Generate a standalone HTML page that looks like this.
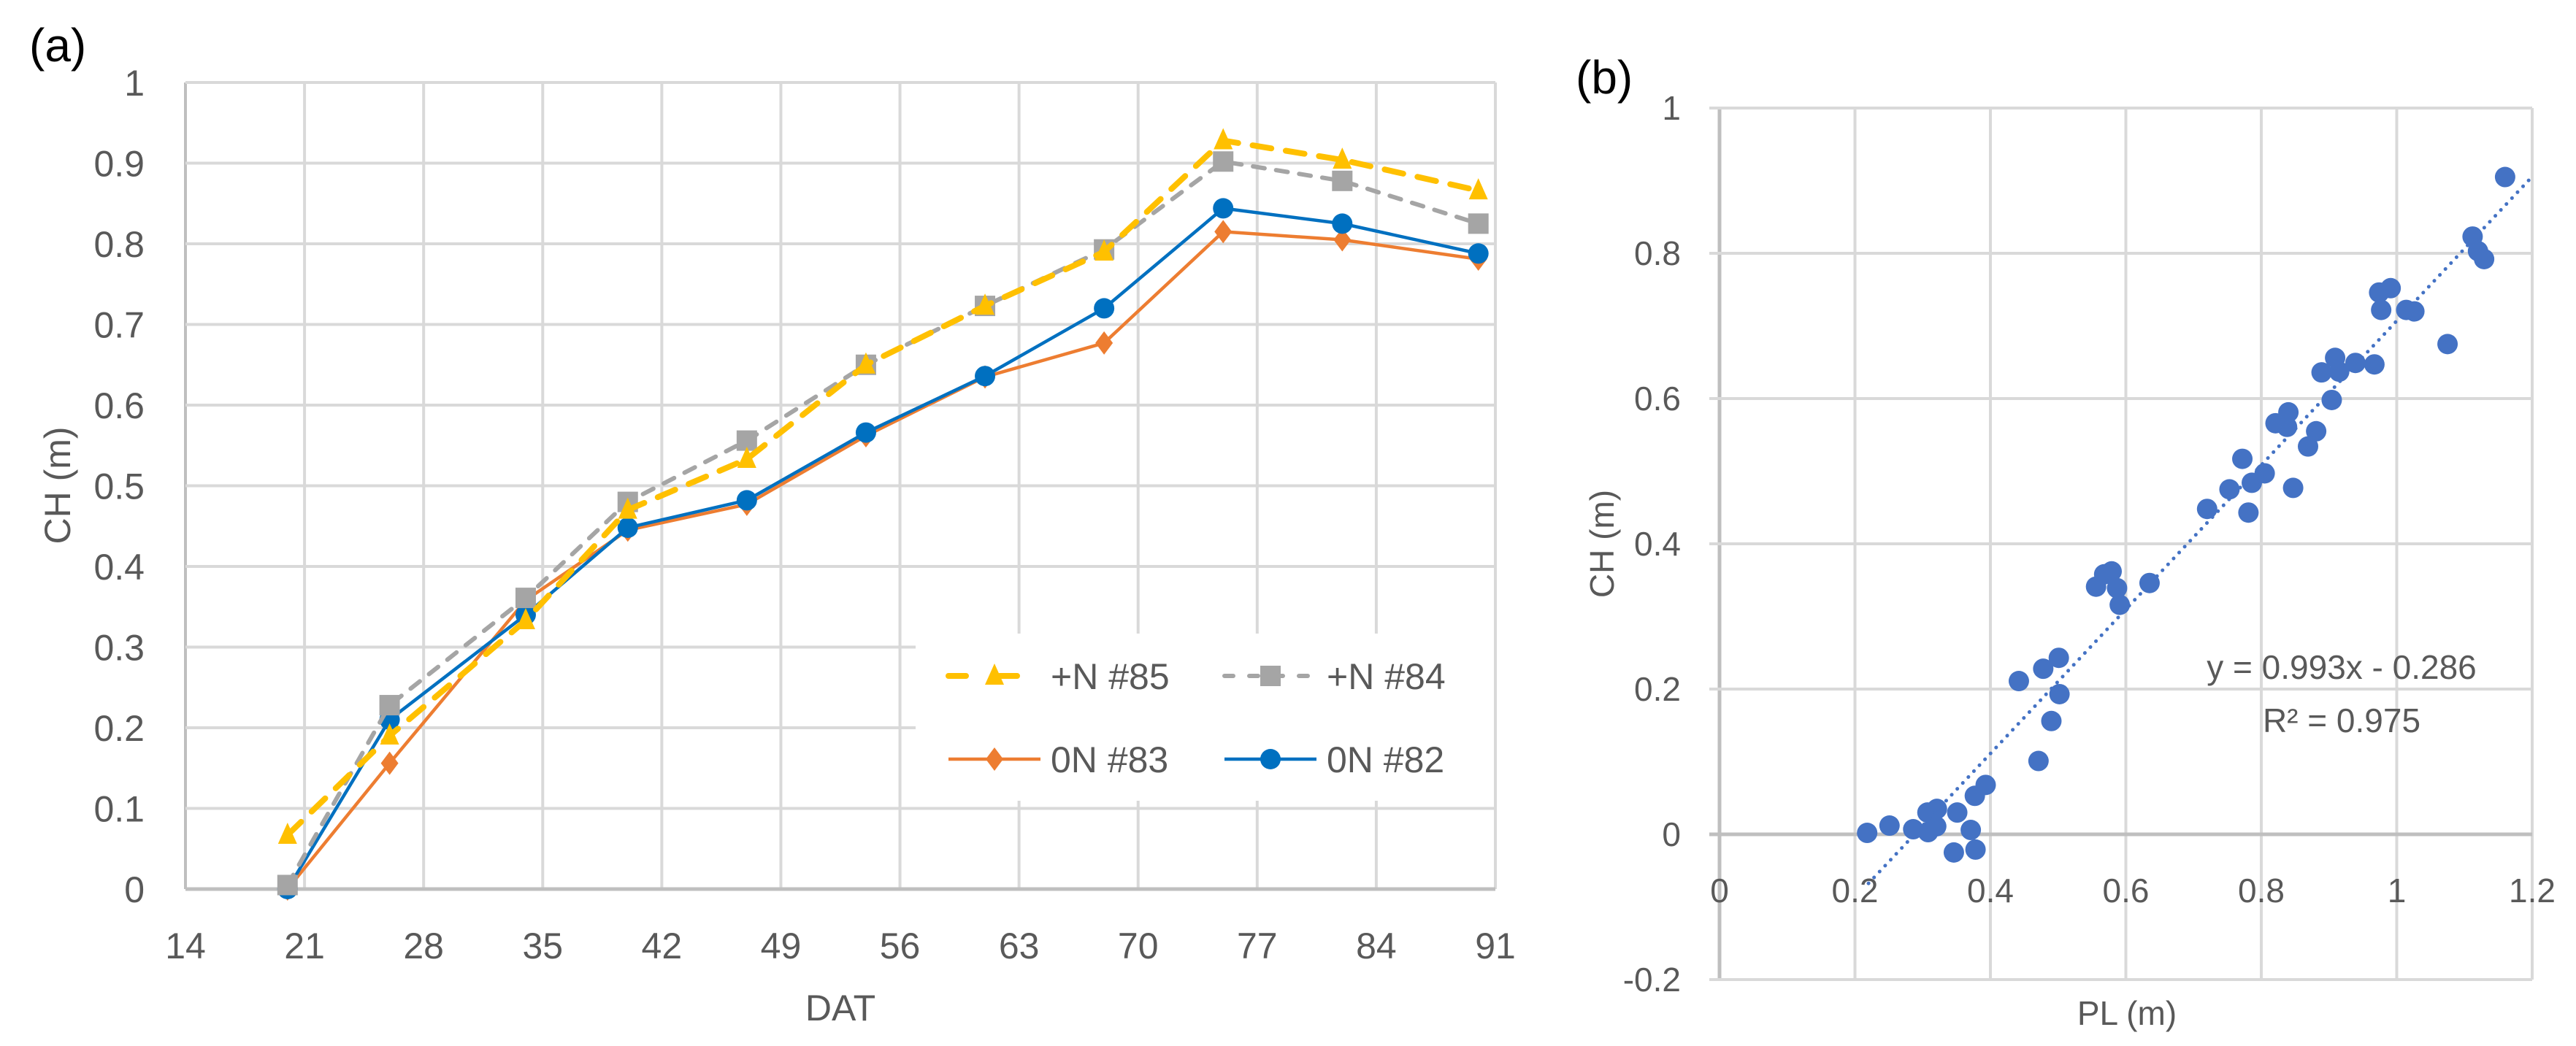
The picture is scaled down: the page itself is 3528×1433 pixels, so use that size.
<!DOCTYPE html>
<html><head><meta charset="utf-8"><style>
html,body{margin:0;padding:0;background:#fff;}
svg{display:block;}
text{font-family:"Liberation Sans",sans-serif;fill:#595959;}
</style></head><body>
<svg id="c" width="3528" height="1433" viewBox="0 0 3528 1433" xmlns="http://www.w3.org/2000/svg"></svg>
<script>
// ---- Chart (a) data ----
const daysA = [20,26,34,40,47,54,61,68,75,82,90];
const seriesN85 = [0.067,0.190,0.333,0.470,0.533,0.650,0.723,0.790,0.928,0.904,0.866];
const seriesN84 = [0.005,0.228,0.361,0.480,0.556,0.650,0.723,0.793,0.902,0.878,0.825];
const series0N83 = [0.000,0.156,0.358,0.445,0.477,0.562,0.635,0.677,0.815,0.805,0.781];
const series0N82 = [0.000,0.210,0.340,0.448,0.482,0.566,0.636,0.720,0.844,0.825,0.788];
const xTicksA = [14,21,28,35,42,49,56,63,70,77,84,91];
const yTicksA = [0,0.1,0.2,0.3,0.4,0.5,0.6,0.7,0.8,0.9,1];
// ---- Chart (b) data ----
const plX = [0.218,0.251,0.286,0.307,0.308,0.321,0.320,0.351,0.346,0.371,0.378,0.377,0.393,0.442,0.471,0.478,0.490,0.501,0.502,0.556,0.568,0.579,0.587,0.591,0.635,0.720,0.753,0.772,0.781,0.786,0.805,0.821,0.838,0.840,0.847,0.869,0.881,0.889,0.904,0.909,0.915,0.939,0.967,0.974,0.977,0.991,1.014,1.026,1.075,1.112,1.120,1.129,1.160];
const chY = [0.002,0.012,0.007,0.030,0.003,0.035,0.011,0.030,-0.025,0.006,-0.021,0.053,0.068,0.211,0.101,0.228,0.156,0.243,0.193,0.341,0.358,0.362,0.339,0.316,0.346,0.448,0.475,0.517,0.443,0.484,0.497,0.566,0.561,0.581,0.477,0.534,0.555,0.636,0.598,0.656,0.637,0.649,0.647,0.746,0.722,0.752,0.722,0.720,0.675,0.823,0.803,0.792,0.905];
const xTicksB = [0,0.2,0.4,0.6,0.8,1,1.2];
const yTicksB = [-0.2,0,0.2,0.4,0.6,0.8,1];
const trendSlope = 0.993, trendIntercept = -0.286, trendX = [0.22,1.2];

const NS="http://www.w3.org/2000/svg";
const svg=document.getElementById('c');
function mk(tag,attrs,parent){const e=document.createElementNS(NS,tag);for(const k in attrs)e.setAttribute(k,attrs[k]);(parent||svg).appendChild(e);return e;}
function txt(s,attrs,parent){const e=mk('text',attrs,parent);e.textContent=s;return e;}

// ===== Chart (a) =====
const ax={l:254,r:2048,t:113,b:1218,x0:14,x1:91,y0:0,y1:1};
const xa=v=>ax.l+(v-ax.x0)/(ax.x1-ax.x0)*(ax.r-ax.l);
const ya=v=>ax.b-(v-ax.y0)/(ax.y1-ax.y0)*(ax.b-ax.t);
const gA=mk('g',{});


const lblA=txt('(a)',{x:40,y:84,'font-size':64,style:'fill:#000'},gA);


xTicksA.forEach(t=>{const l=mk('line',{x1:xa(t),x2:xa(t),y1:ax.t,y2:ax.b,stroke:t===14?'#bfbfbf':'#d9d9d9','stroke-width':4},gA);


const tl=txt(String(t),{x:xa(t),y:1313,'font-size':50,'text-anchor':'middle'},gA);

});
yTicksA.forEach(t=>{const l=mk('line',{x1:ax.l,x2:ax.r,y1:ya(t),y2:ya(t),stroke:t===0?'#bfbfbf':'#d9d9d9','stroke-width':t===0?5:4},gA);


const tl=txt(String(t),{x:198,y:ya(t)+18,'font-size':50,'text-anchor':'end'},gA);

});
const yt=txt('CH (m)',{x:0,y:0,'font-size':50,'text-anchor':'middle',transform:'translate(96,665) rotate(-90)'},gA);


const xt=txt('DAT',{x:1151,y:1398,'font-size':50,'text-anchor':'middle'},gA);



function marker(type,cx,cy,color,parent){
  let m;
  if(type==='tri') m=mk('polygon',{points:`${cx},${cy-17} ${cx+13},${cy+12} ${cx-13},${cy+12}`,fill:color},parent);
  else if(type==='sq') m=mk('rect',{x:cx-14,y:cy-14,width:28,height:28,fill:color},parent);
  else if(type==='dia') m=mk('polygon',{points:`${cx},${cy-16} ${cx+12},${cy} ${cx},${cy+16} ${cx-12},${cy}`,fill:color},parent);
  else m=mk('circle',{cx:cx,cy:cy,r:14,fill:color},parent);
  return m;
}
const defsA=[
 {name:'n85',data:seriesN85,color:'#ffc000',w:8,dash:'26 20',m:'tri'},
 {name:'n84',data:seriesN84,color:'#a5a5a5',w:6,dash:'16 16',m:'sq'},
 {name:'0n83',data:series0N83,color:'#ed7d31',w:4.5,dash:null,m:'dia'},
 {name:'0n82',data:series0N82,color:'#0070c0',w:4.5,dash:null,m:'circ'}];
[defsA[2],defsA[3],defsA[1],defsA[0]].forEach(s=>{
  const g=mk('g',{},gA);
  
  
  const pts=daysA.map((d,i)=>xa(d)+','+ya(s.data[i])).join(' ');
  const pl=mk('polyline',{points:pts,fill:'none',stroke:s.color,'stroke-width':s.w,'stroke-linejoin':'round','stroke-linecap':s.dash?'round':'butt'},g);
  if(s.dash)pl.setAttribute('stroke-dasharray',s.dash);
  
  
  daysA.forEach((d,i)=>{const m=marker(s.m,xa(d),ya(s.data[i]),s.color,g);
  
  });
});
// legend
const lg=mk('g',{},gA);


mk('rect',{x:1254,y:868,width:792,height:229,fill:'#fff'},lg);
const legItems=[[defsA[0],'+N #85',1299,926],[defsA[1],'+N #84',1677,926],[defsA[2],'0N #83',1299,1040],[defsA[3],'0N #82',1677,1040]];
legItems.forEach(([s,label,x,y])=>{
  const e=mk('g',{},lg);
  
  
  const l=mk('line',{x1:x,x2:x+126,y1:y,y2:y,stroke:s.color,'stroke-width':s.w,'stroke-linecap':s.dash?'round':'butt'},e);
  if(s.dash)l.setAttribute('stroke-dasharray',s.dash==='26 20'?'24 46':'12 22');
  marker(s.m,x+63,y,s.color,e);
  txt(label,{x:x+140,y:y+18,'font-size':50},e);
});

// ===== Chart (b) =====
const bx={l:2355,r:3468,t:148,b:1342,x0:0,x1:1.2,y0:-0.2,y1:1};
const xb=v=>bx.l+(v-bx.x0)/(bx.x1-bx.x0)*(bx.r-bx.l);
const yb=v=>bx.b-(v-bx.y0)/(bx.y1-bx.y0)*(bx.b-bx.t);
const gB=mk('g',{});


const lblB=txt('(b)',{x:2158,y:128,'font-size':64,style:'fill:#000'},gB);


xTicksB.forEach(t=>{const l=mk('line',{x1:xb(t),x2:xb(t),y1:bx.t,y2:bx.b,stroke:t===0?'#bfbfbf':'#d9d9d9','stroke-width':t===0?5:4},gB);


const tl=txt(String(t),{x:xb(t),y:1236,'font-size':46,'text-anchor':'middle'},gB);

});
yTicksB.forEach(t=>{const l=mk('line',{x1:bx.l-14,x2:bx.r,y1:yb(t),y2:yb(t),stroke:t===0?'#bfbfbf':'#d9d9d9','stroke-width':t===0?5:4},gB);


const tl=txt(String(t),{x:2302,y:yb(t)+16,'font-size':46,'text-anchor':'end'},gB);

});
const ytb=txt('CH (m)',{x:0,y:0,'font-size':46,'text-anchor':'middle',transform:'translate(2210,745) rotate(-90)'},gB);


const xtb=txt('PL (m)',{x:2913,y:1404,'font-size':46,'text-anchor':'middle'},gB);


const pg=mk('g',{},gB);


plX.forEach((v,i)=>{const c=mk('circle',{cx:xb(v),cy:yb(chY[i]),r:14,fill:'#4472c4'},pg);

});
const tr=mk('line',{x1:xb(trendX[0]),y1:yb(trendSlope*trendX[0]+trendIntercept),x2:xb(trendX[1]),y2:yb(trendSlope*trendX[1]+trendIntercept),stroke:'#4472c4','stroke-width':5,'stroke-dasharray':'0.1 11','stroke-linecap':'round'},gB);


const eq=txt('y = 0.993x - 0.286',{x:3207,y:930,'font-size':46,'text-anchor':'middle'},gB);


const r2=txt('R² = 0.975',{x:3207,y:1003,'font-size':46,'text-anchor':'middle'},gB);


</script>
</body></html>
